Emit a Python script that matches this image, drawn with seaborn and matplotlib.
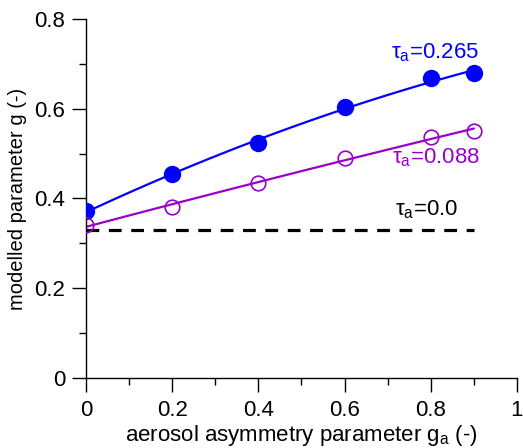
import matplotlib
matplotlib.use("Agg")
import matplotlib.pyplot as plt
import seaborn as sns
from matplotlib.ticker import MultipleLocator

# datos
g_a = [0.0, 0.2, 0.4, 0.6, 0.8, 0.9]
g_tau_0265 = [0.371, 0.455, 0.524, 0.604, 0.668, 0.679]
g_tau_0088 = [0.341, 0.380, 0.435, 0.490, 0.538, 0.550]
g_tau_00_x = [0.0, 0.9]
g_tau_00 = [0.330, 0.330]

x_ticks = [0, 0.2, 0.4, 0.6, 0.8, 1.0]
x_ticklabels = ["0", "0.2", "0.4", "0.6", "0.8", "1"]
y_ticks = [0, 0.2, 0.4, 0.6, 0.8]
y_ticklabels = ["0", "0.2", "0.4", "0.6", "0.8"]

BLUE = "#0000FF"
PURPLE = "#9900CC"

sns.set_theme(style="ticks")
plt.rcParams.update({
    "font.family": ["Liberation Sans", "DejaVu Sans"],
    "mathtext.fontset": "custom",
    "mathtext.rm": "Liberation Sans",
    "mathtext.it": "Liberation Sans",
    "xtick.direction": "out",
    "ytick.direction": "out",
})

fig = plt.figure(figsize=(5.23, 4.48), dpi=100)
ax = fig.add_axes([0.1644, 0.1563, 0.8241, 0.8013])

# curvas ajustadas
sns.regplot(x=g_a, y=g_tau_0265, order=2, ci=None, scatter=False, ax=ax,
            line_kws={"color": BLUE, "lw": 1.6})
sns.regplot(x=g_a, y=g_tau_0088, order=2, ci=None, scatter=False, ax=ax,
            line_kws={"color": PURPLE, "lw": 1.6})

# marcadores
ax.plot(g_a, g_tau_0265, "o", ms=11.5, color=BLUE, mec=BLUE, zorder=5)
ax.plot(g_a, g_tau_0088, "o", ms=10.5, mfc="none", mec=PURPLE, mew=1.2, zorder=5)

# línea tau=0
ax.plot(g_tau_00_x, g_tau_00, color="black", lw=2.3, dashes=(4, 3))

ax.text(0.81, 0.726, r"$\mathregular{\tau_a}$=0.265", color=BLUE, fontsize=16,
        ha="center", va="center")
ax.text(0.812, 0.490, r"$\mathregular{\tau_a}$=0.088", color=PURPLE, fontsize=16,
        ha="center", va="center")
ax.text(0.79, 0.374, r"$\mathregular{\tau_a}$=0.0", color="black", fontsize=16,
        ha="center", va="center")

ax.set_xlim(0, 1)
ax.set_ylim(0, 0.8)
ax.set_xticks(x_ticks)
ax.set_xticklabels(x_ticklabels)
ax.set_yticks(y_ticks)
ax.set_yticklabels(y_ticklabels)
ax.xaxis.set_minor_locator(MultipleLocator(0.1))
ax.yaxis.set_minor_locator(MultipleLocator(0.1))

ax.tick_params(which="major", length=10, width=1, labelsize=16, color="black",
               labelcolor="black")
ax.tick_params(axis="x", which="major", pad=6)
ax.tick_params(axis="y", which="major", pad=5)
ax.tick_params(which="minor", length=5, width=1, color="black")
ax.tick_params(axis="x", which="both", bottom=True)
ax.tick_params(axis="y", which="both", left=True)

sns.despine(ax=ax)
for s in ["left", "bottom"]:
    ax.spines[s].set_color("black")
    ax.spines[s].set_linewidth(1)

ax.set_xlabel(r"aerosol asymmetry parameter g$\mathregular{_a}$ (-)", fontsize=16,
              color="black", labelpad=1)
ax.set_ylabel("modelled parameter g (-)", fontsize=14.5, color="black", labelpad=5)

fig.savefig("out.png", dpi=100)
